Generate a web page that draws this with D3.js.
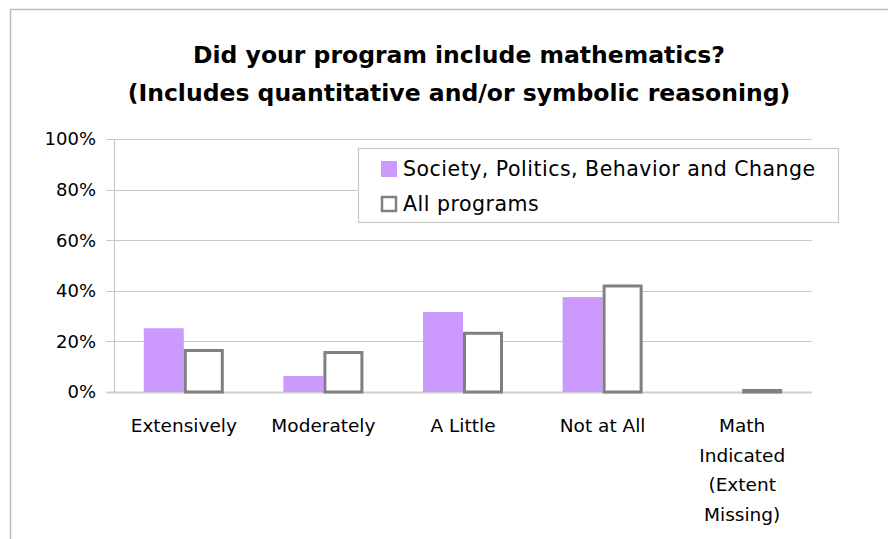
<!DOCTYPE html>
<html><head><meta charset="utf-8">
<script src="https://cdn.jsdelivr.net/npm/d3@7"></script>
<style>
html,body{margin:0;padding:0;background:#fff;}
svg{display:block;font-family:"DejaVu Sans",Verdana,sans-serif;}
</style></head>
<body>
<svg id="chart" width="888" height="539"></svg>
<script>
const categories = ["Extensively", "Moderately", "A Little", "Not at All", "Math Indicated (Extent Missing)"];
const categoryLines = [["Extensively"], ["Moderately"], ["A Little"], ["Not at All"], ["Math", "Indicated", "(Extent", "Missing)"]];
const seriesNames = ["Society, Politics, Behavior and Change", "All programs"];
const societyValues = [25.2, 6.3, 31.6, 37.5, 0];
const allProgramsValues = [17.0, 16.2, 23.8, 42.5, 1.2];
const yTicks = [0, 20, 40, 60, 80, 100];
const titleLines = ["Did your program include mathematics?", "(Includes quantitative and/or symbolic reasoning)"];

const svg = d3.select("#chart");
const W = 888, H = 539;
const plot = {left: 114, right: 812, top: 139, bottom: 392};

// outer chart border
svg.append("path")
  .attr("d", `M10.5,${H} V9.5 H${W}`)
  .attr("fill", "none").attr("stroke", "#bdbdbd").attr("stroke-width", 1.5);

// title
svg.append("g").selectAll("text").data(titleLines).join("text")
  .attr("x", 459).attr("y", (d, i) => 63 + i * 38)
  .attr("text-anchor", "middle").attr("font-weight", "bold").attr("font-size", 23.5)
  .attr("fill", "#000").text(d => d);

const x0 = d3.scaleBand().domain(categories).range([plot.left, plot.right]).paddingInner(0).paddingOuter(0);
const groupW = 80;
const x1 = d3.scaleBand().domain(seriesNames).range([0, groupW]).padding(0);
const y = d3.scaleLinear().domain([0, 100]).range([plot.bottom, plot.top]);

// gridlines
svg.append("g").selectAll("line").data(yTicks).join("line")
  .attr("x1", plot.left - 8).attr("x2", plot.right)
  .attr("y1", d => Math.round(y(d)) + 0.5).attr("y2", d => Math.round(y(d)) + 0.5)
  .attr("stroke", d => d === 0 ? "#cfcfcf" : "#c8c8c8").attr("stroke-width", d => d === 0 ? 2 : 1.2);

// y axis line
svg.append("line").attr("x1", plot.left + 0.5).attr("x2", plot.left + 0.5)
  .attr("y1", plot.top).attr("y2", plot.bottom)
  .attr("stroke", "#c8c8c8").attr("stroke-width", 1.2);

// y tick labels
svg.append("g").selectAll("text").data(yTicks).join("text")
  .attr("x", 96).attr("y", d => y(d)).attr("dy", "0.36em")
  .attr("text-anchor", "end").attr("font-size", 18).attr("fill", "#000")
  .text(d => d + "%");

// bars
const data = categories.map((c, i) => ({cat: c, vals: [
  {s: seriesNames[0], v: societyValues[i]},
  {s: seriesNames[1], v: allProgramsValues[i]}
]}));
const groups = svg.append("g").selectAll("g").data(data).join("g")
  .attr("transform", d => `translate(${x0(d.cat) + x0.bandwidth() / 2 - groupW / 2},0)`);
groups.selectAll("rect").data(d => d.vals.filter(v => v.s === seriesNames[0])).join("rect")
  .attr("x", d => x1(d.s)).attr("width", x1.bandwidth())
  .attr("y", d => y(d.v)).attr("height", d => y(0) - y(d.v))
  .attr("fill", "#cc99ff");
groups.selectAll("rect.all").data(d => d.vals.filter(v => v.s === seriesNames[1])).join("rect")
  .attr("class", "all")
  .attr("x", d => x1(d.s) + 1.5).attr("width", x1.bandwidth() - 3)
  .attr("y", d => y(d.v) + 1.5).attr("height", d => Math.max(0, y(0) - y(d.v) - 1.5))
  .attr("fill", "#fff").attr("stroke", "#808080").attr("stroke-width", 3);

// category labels
const cl = svg.append("g").selectAll("text").data(categories).join("text")
  .attr("text-anchor", "middle").attr("font-size", 18.5).attr("fill", "#000")
  .attr("transform", d => `translate(${x0(d) + x0.bandwidth() / 2},432)`);
cl.selectAll("tspan").data((d, i) => categoryLines[i]).join("tspan")
  .attr("x", 0).attr("y", (d, i) => i * 29.6).text(d => d);

// legend
const lg = svg.append("g");
lg.append("rect").attr("x", 358.5).attr("y", 148.5).attr("width", 480).attr("height", 74)
  .attr("fill", "#fff").attr("stroke", "#c8c8c8").attr("stroke-width", 1.2);
const items = lg.selectAll("g").data(seriesNames).join("g")
  .attr("transform", (d, i) => `translate(381,${161 + i * 35})`);
items.append("rect")
  .attr("x", (d, i) => i ? 1 : 0).attr("y", (d, i) => i ? 1 : 0)
  .attr("width", (d, i) => i ? 14 : 16).attr("height", (d, i) => i ? 14 : 16)
  .attr("fill", (d, i) => i ? "#fff" : "#cc99ff")
  .attr("stroke", (d, i) => i ? "#808080" : "none").attr("stroke-width", 2.5);
items.append("text").attr("x", 22).attr("y", 14.5).attr("font-size", 20.5)
  .attr("letter-spacing", 0.5).attr("fill", "#000").text(d => d);
</script>
</body></html>
